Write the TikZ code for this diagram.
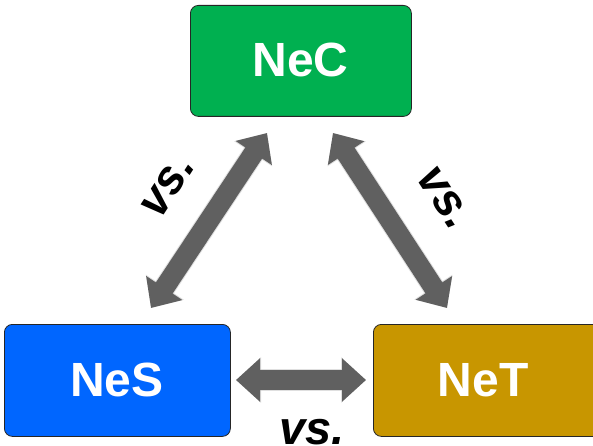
\documentclass[tikz,border=0pt]{standalone}
\usepackage{fontspec}
\setmainfont{Liberation Sans}
\usetikzlibrary{arrows.meta}
\definecolor{cgreen}{HTML}{00B050}
\definecolor{cblue}{HTML}{0066FF}
\definecolor{cgold}{HTML}{C89600}
\definecolor{cgray}{HTML}{606060}
\begin{document}
\begin{tikzpicture}[x=1pt,y=-1pt,
  box/.style={draw=black!85, line width=0.8pt, rounded corners=8pt, inner sep=0pt, anchor=north west},
  boxtext/.style={text=white, font=\fontsize{48}{52}\selectfont\bfseries},
  bigarrow/.style={cgray, line width=20pt, {Triangle[width=42pt,length=24pt]}-{Triangle[width=42pt,length=24pt]}},
  arrowshadow/.style={black!25, opacity=0.5, line width=22pt, {Triangle[width=44pt,length=25pt]}-{Triangle[width=44pt,length=25pt]}},
  vslabel/.style={font=\fontsize{47}{50}\selectfont\bfseries\itshape, text=black, inner sep=0pt}]
\useasboundingbox (0,0) rectangle (593,446);
\clip (0,0) rectangle (593,446);
\node[box, fill=cgreen, minimum width=221pt, minimum height=111pt] (nec) at (190,5) {};
\node[boxtext] (necl) at (300.5,60) {NeC};
\node[box, fill=cblue, minimum width=226pt, minimum height=112pt] (nes) at (4,324) {};
\node[boxtext] (nesl) at (117,380) {NeS};
\node[box, fill=cgold, minimum width=240pt, minimum height=112pt] (net) at (373,324) {};
\node[boxtext] (netl) at (483,380) {NeT};
% arrow anchor coordinates
\coordinate (a1) at (151,308);
\coordinate (a2) at (267,133);
\coordinate (b1) at (333,133);
\coordinate (b2) at (447,308);
\coordinate (c1) at (236,380);
\coordinate (c2) at (366,380);
\begin{scope}[shift={(2,3)}]
\draw[arrowshadow] (a1) -- (a2);
\draw[arrowshadow] (b1) -- (b2);
\draw[arrowshadow] (c1) -- (c2);
\end{scope}
\draw[bigarrow] (a1) -- (a2);
\draw[bigarrow] (b1) -- (b2);
\draw[bigarrow] (c1) -- (c2);
\node[vslabel, rotate=57] (vs1) at (168,186) {vs.};
\node[vslabel, rotate=-57] (vs2) at (444,198) {vs.};
\node[vslabel] (vs3) at (312,432) {vs.};
\end{tikzpicture}
\end{document}
